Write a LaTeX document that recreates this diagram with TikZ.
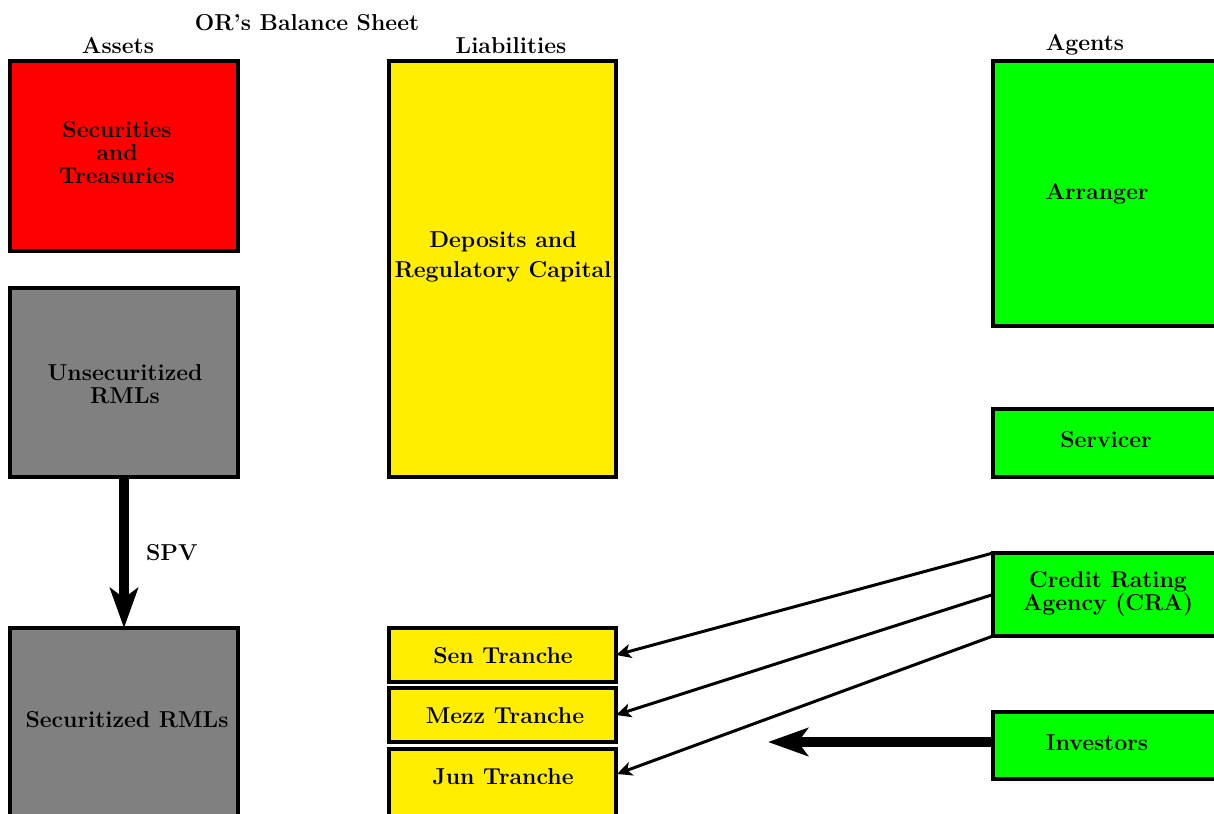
\documentclass[tikz,border=0pt]{standalone}
\usetikzlibrary{arrows.meta}
\definecolor{cred}{RGB}{255,0,0}
\definecolor{cgray}{RGB}{128,128,128}
\definecolor{cyellow}{RGB}{255,238,0}
\definecolor{cgreen}{RGB}{0,255,0}
\begin{document}
\begin{tikzpicture}[x=0.5pt,y=-0.5pt,
  box/.style={draw=black,line width=1.6pt,inner sep=0pt,outer sep=0pt,anchor=north west},
  lbl/.style={font=\fontsize{11.5pt}{11.5pt}\selectfont\bfseries,align=center,inner sep=0pt},
  thinarrow/.style={line width=1.5pt,-{Stealth[length=7.5pt,width=7pt,inset=2pt]}},
  fatarrow/.style={line width=5pt,-{Stealth[length=20pt,width=14pt,inset=5pt]}}]
\useasboundingbox (0,0) rectangle (1214,813);
\clip (0,0) rectangle (1214,813);
% headings
\node[lbl] (title) at (307,23) {OR's Balance Sheet};
\node[lbl] (hassets) at (118,46) {Assets};
\node[lbl] (hliab) at (511,46) {Liabilities};
\node[lbl] (hagents) at (1085,45) {Agents};
% assets
\node[box,fill=cred,minimum width=114pt,minimum height=95pt] (secu) at (10,61) {};
\node[box,fill=cgray,minimum width=114pt,minimum height=94.5pt] (unsec) at (10,288) {};
\node[box,fill=cgray,minimum width=114pt,minimum height=125pt] (sec) at (10,628) {};
\node[lbl] (tsecu) at (117,153) {Securities\\and\\Treasuries};
\node[lbl] (tunsec) at (125,384) {Unsecuritized\\RMLs};
\node[lbl] (tsec) at (127,720) {Securitized RMLs};
% liabilities
\node[box,fill=cyellow,minimum width=113.5pt,minimum height=208pt] (dep) at (389,61) {};
\node[box,fill=cyellow,minimum width=113.5pt,minimum height=27pt] (sen) at (389,628) {};
\node[box,fill=cyellow,minimum width=113.5pt,minimum height=27pt] (mezz) at (389,688) {};
\node[box,fill=cyellow,minimum width=113.5pt,minimum height=75pt] (jun) at (389,749) {};
\node[lbl] (tdep) at (503,257) {Deposits and\\[3.5pt]Regulatory Capital};
\node[lbl] (tsen) at (503,656) {Sen Tranche};
\node[lbl] (tmezz) at (505,716) {Mezz Tranche};
\node[lbl] (tjun) at (503,777) {Jun Tranche};
% agents
\node[box,fill=cgreen,minimum width=130pt,minimum height=132.5pt] (arr) at (993,61) {};
\node[box,fill=cgreen,minimum width=130pt,minimum height=34pt] (serv) at (993,409) {};
\node[box,fill=cgreen,minimum width=130pt,minimum height=41.5pt] (cra) at (993,553) {};
\node[box,fill=cgreen,minimum width=130pt,minimum height=33.5pt] (inv) at (993,712) {};
\node[lbl] (tarr) at (1097,194) {Arranger};
\node[lbl] (tserv) at (1106,440) {Servicer};
\node[lbl] (tcra) at (1108,594) {Credit Rating\\Agency (CRA)};
\node[lbl] (tinv) at (1097,743) {Investors};
% connectors
\coordinate (juntip) at (617,774);
\coordinate (invtip) at (768,742);
\draw[fatarrow] (unsec.south) -- (sec.north) node[lbl,midway,right=8.5pt] (spv) {SPV};
\draw[thinarrow] (cra.north west) -- (sen.east);
\draw[thinarrow] (cra.west) -- (mezz.east);
\draw[thinarrow] (cra.south west) -- (juntip);
\draw[fatarrow] (invtip -| inv.west) -- (invtip);
\end{tikzpicture}
\end{document}
